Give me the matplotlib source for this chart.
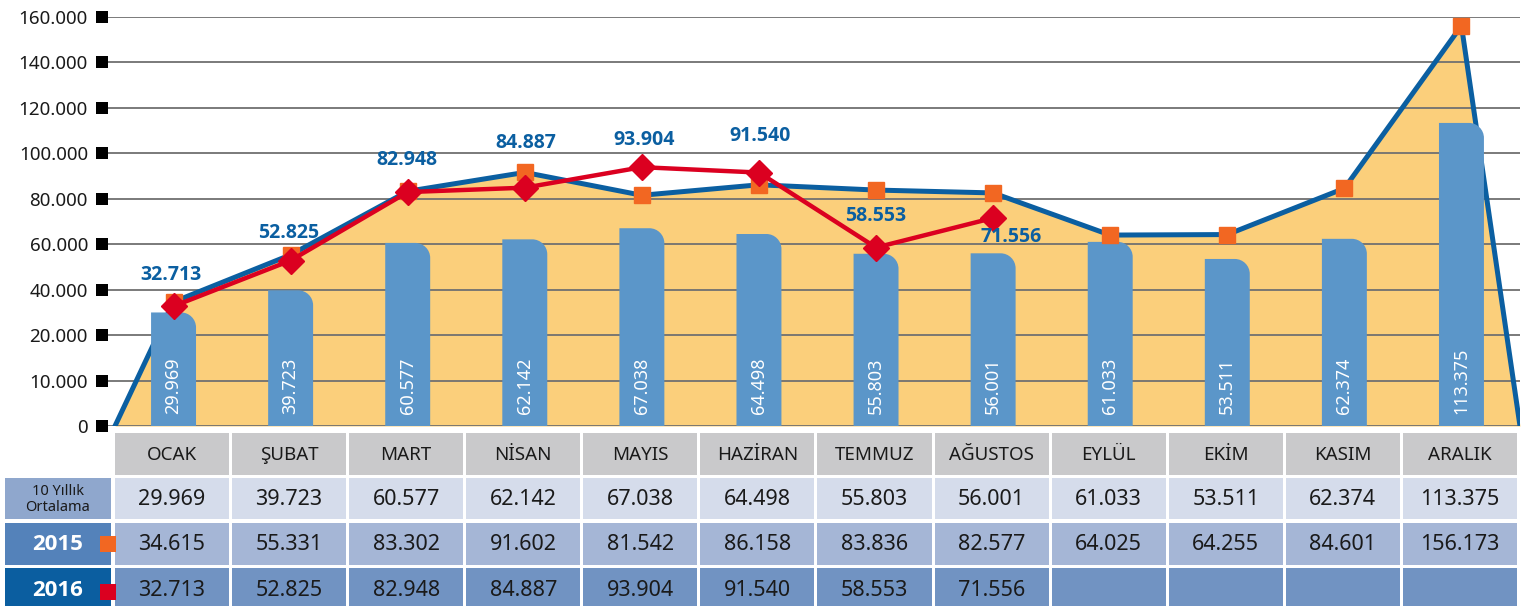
import numpy as np
import matplotlib
matplotlib.use('Agg')
import matplotlib.pyplot as plt
from matplotlib.path import Path
from matplotlib.patches import PathPatch, Rectangle
from matplotlib.ticker import FuncFormatter

plt.rcParams['font.family'] = ['Noto Sans', 'DejaVu Sans']
BOLD_FONT = ['Open Sans', 'DejaVu Sans']

months = ['OCAK', 'ŞUBAT', 'MART', 'NİSAN', 'MAYIS', 'HAZİRAN',
          'TEMMUZ', 'AĞUSTOS', 'EYLÜL', 'EKİM', 'KASIM', 'ARALIK']
avg_10y = [29969, 39723, 60577, 62142, 67038, 64498,
           55803, 56001, 61033, 53511, 62374, 113375]
y2015 = [34615, 55331, 83302, 91602, 81542, 86158,
         83836, 82577, 64025, 64255, 84601, 156173]
y2016 = [32713, 52825, 82948, 84887, 93904, 91540, 58553, 71556]
yticks = [0, 10000, 20000, 40000, 60000, 80000, 100000, 120000, 140000, 160000]

# label offsets for the 2016 values (pixels: right, up)
label_off = [(-3, 31), (-2, 28), (-1, 32), (1, 45), (2, 27), (1, 37), (0, 32), (18, -19)]

W, H = 1529, 606
PX_U = 1405 / 12          # pixels per month
PX_Y = 409 / 9            # pixels per scale unit

C_FILL = '#FBCF7B'
C_BAR = '#5B96C9'
C_BLUE = '#0B5FA1'
C_ORANGE = '#F26722'
C_RED = '#DB0020'
C_TXT = '#1a1a1a'


def fwd(v):
    # the original axis: 0-20.000 in two steps of 10.000, then steps of 20.000
    v = np.asarray(v, dtype=float)
    return np.where(v <= 20000, v / 10000, 2 + (v - 20000) / 20000)


def inv(p):
    p = np.asarray(p, dtype=float)
    return np.where(p <= 2, p * 10000, 20000 + (p - 2) * 20000)


def fmt(v):
    return f'{int(v):,}'.replace(',', '.')


def rounded_bar(ax, x, h, w, r_px):
    x0, x1 = x - w / 2, x + w / 2
    rx = r_px / PX_U
    top = float(fwd(h))
    rp = r_px / PX_Y
    k = 0.5523
    verts = [(x0, 0), (x0, h), (x1 - rx, h), (x1 - rx + k * rx, h),
             (x1, float(inv(top - rp + k * rp))), (x1, float(inv(top - rp))),
             (x1, 0), (x0, 0)]
    codes = [Path.MOVETO, Path.LINETO, Path.LINETO, Path.CURVE4, Path.CURVE4,
             Path.CURVE4, Path.LINETO, Path.CLOSEPOLY]
    ax.add_patch(PathPatch(Path(verts, codes), facecolor=C_BAR,
                           edgecolor='none', zorder=4))


def main():
    fig = plt.figure(figsize=(W / 100, H / 100), dpi=100)
    ax = fig.add_axes([108 / W, 180 / H, 1412 / W, 409 / H])
    ax.set_yscale('function', functions=(fwd, inv))
    ax.set_ylim(0, 160000)
    ax.set_xlim(-0.5 - 7 / PX_U, 11.5)

    x = np.arange(len(months))
    xe = np.concatenate([[-0.5], x, [11.5]])
    ye = np.concatenate([[0], y2015, [0]])
    ax.fill_between(xe, 0, ye, color=C_FILL, lw=0, zorder=1)
    ax.plot(xe, ye, color=C_BLUE, lw=3.6, zorder=3, solid_joinstyle='miter')

    for i, v in enumerate(avg_10y):
        rounded_bar(ax, i, v, 0.384, 15)
        ax.annotate(fmt(v), (i, 0), xytext=(0, 9), textcoords='offset points',
                    rotation=90, ha='center', va='bottom', color='white',
                    fontsize=13, zorder=6)

    ax.plot(x, y2015, ls='none', marker='s', ms=11, color=C_ORANGE,
            mec=C_ORANGE, zorder=5)
    x16 = np.arange(len(y2016))
    ax.plot(x16, y2016, color=C_RED, lw=3.2, marker='D', ms=13.5,
            mec=C_RED, zorder=7)
    for i, v in enumerate(y2016):
        dx, dy = label_off[i]
        ax.annotate(fmt(v), (i, v), xytext=(dx * 0.72, dy * 0.72),
                    textcoords='offset points', ha='center', va='center',
                    color=C_BLUE, fontsize=14, fontweight='bold', zorder=8,
                    family=BOLD_FONT)

    ax.set_yticks(yticks)
    ax.yaxis.set_major_formatter(FuncFormatter(lambda v, p: fmt(v)))
    ax.yaxis.set_minor_locator(matplotlib.ticker.NullLocator())
    ax.set_xticks([])
    ax.tick_params(axis='y', length=8.64, width=8.64, color='black',
                   pad=5.8, labelsize=13.5, labelcolor=C_TXT)
    ax.set_axisbelow('line')
    ax.grid(axis='y', color='#707070', lw=1.3)
    for s in ax.spines.values():
        s.set_visible(False)

    # table under the chart
    tax = fig.add_axes([0, 0, 1520 / W, 178 / H])
    tax.set_xlim(-0.5 - 115 / PX_U, 11.5)
    tax.set_ylim(606, 428)
    tax.axis('off')
    gap = 3 / PX_U
    rows = [(433, 475, '#C9C9CB'), (478, 519, '#D5DCEB'),
            (523, 565, '#A5B6D6'), (568, 610, '#7193C2')]
    row_vals = [months, [fmt(v) for v in avg_10y], [fmt(v) for v in y2015],
                [fmt(v) for v in y2016] + [''] * (12 - len(y2016))]
    sizes = [13.5, 15.5, 15.5, 15.5]
    for (t, b, c), vals, fs in zip(rows, row_vals, sizes):
        for i, s in enumerate(vals):
            tax.add_patch(Rectangle((i - 0.5, t), 1 - gap, b - t, color=c, lw=0))
            tax.text(i - gap / 2, (t + b) / 2 + 1, s, ha='center', va='center',
                     fontsize=fs, color=C_TXT)

    lx0 = -0.5 - 110 / PX_U
    lw_ = 106 / PX_U
    lcx = lx0 + lw_ / 2
    row_labels = [('10 Yıllık\nOrtalama', '#8FA7CD', C_TXT, 10.5, 'normal'),
                  ('2015', '#5482BA', 'white', 16, 'bold'),
                  ('2016', '#0B5EA0', 'white', 16, 'bold')]
    for (t, b, _), (s, bg, tc, fs, fw) in zip(rows[1:], row_labels):
        tax.add_patch(Rectangle((lx0, t), lw_, b - t, color=bg, lw=0))
        fam = BOLD_FONT if fw == 'bold' else None
        tax.text(lcx, (t + b) / 2 + 1, s, ha='center', va='center', fontsize=fs,
                 color=tc, fontweight=fw, linespacing=1.05, family=fam)

    sq = 16 / PX_U
    tax.add_patch(Rectangle((-0.5 - 15 / PX_U, 536), sq, 16, color=C_ORANGE, lw=0))
    tax.add_patch(Rectangle((-0.5 - 15 / PX_U, 584), sq, 16, color=C_RED, lw=0))

    fig.savefig('out.png', dpi=100)


if __name__ == '__main__':
    main()
